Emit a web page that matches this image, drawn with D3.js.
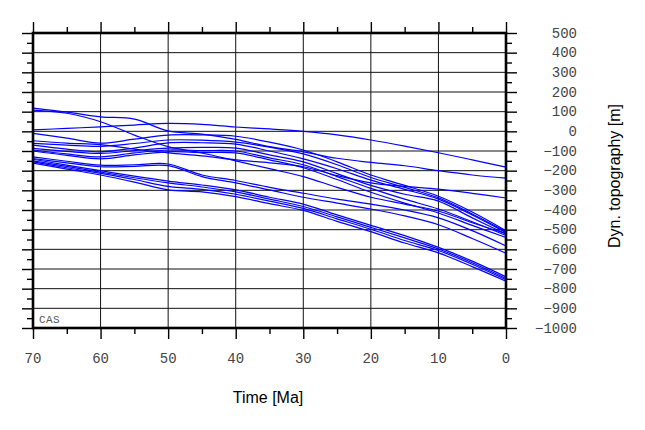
<!DOCTYPE html>
<html><head><meta charset="utf-8">
<script src="https://cdn.jsdelivr.net/npm/d3@7"></script>
<style>html,body{margin:0;padding:0;background:#fff;}</style>
</head><body>
<svg id="c" width="645" height="430"></svg>
<script>
// ---- data (ages in Ma, dynamic topography in m) ----
const ages = [70, 65, 60, 55, 50, 45, 40, 35, 30, 25, 20, 15, 10, 5, 0];
const xMajorTicks = [70, 60, 50, 40, 30, 20, 10, 0];
const yMajorTicks = [500, 400, 300, 200, 100, 0, -100, -200, -300, -400, -500, -600, -700, -800, -900, -1000];
const regionLabel = "CAS";
const xTitle = "Time [Ma]";
const yTitle = "Dyn. topography [m]";

const lineTop = [7, 15, 23, 32, 40, 35, 22, 12, 0, -18, -44, -75, -109, -145, -182];
const lineA1  = [118, 98, 74, 62, 2, -14, -41, -78, -104, -137, -158, -175, -200, -222, -238];
const lineA2  = [108, 92, 49, -19, -78, -110, -150, -190, -230, -285, -335, -370, -405, -465, -520];
const lineL4  = [-48, -60, -68, -90, -110, -125, -145, -160, -180, -225, -262, -280, -294, -315, -339];
const lineM1  = [-10, -35, -60, -40, -19, -18, -25, -55, -95, -155, -222, -275, -330, -410, -505];
const lineM2  = [-61, -70, -76, -62, -44, -45, -55, -80, -115, -170, -235, -285, -338, -420, -510];
const lineM3  = [-70, -90, -104, -85, -59, -58, -65, -100, -140, -190, -248, -295, -345, -425, -515];
const lineM4  = [-87, -102, -112, -98, -85, -82, -85, -120, -155, -215, -275, -320, -355, -440, -522];
const lineM5  = [-95, -115, -130, -110, -95, -98, -100, -135, -170, -230, -290, -345, -395, -460, -530];
const lineM6  = [-100, -122, -140, -120, -104, -108, -110, -145, -185, -245, -310, -365, -415, -478, -540];
const lineP1  = [-130, -152, -172, -170, -166, -222, -250, -285, -315, -345, -370, -400, -440, -505, -583];
const lineP2  = [-138, -160, -180, -178, -174, -230, -262, -298, -335, -365, -395, -430, -475, -545, -620];
const lineB1  = [-142, -172, -200, -228, -253, -273, -298, -335, -370, -425, -478, -530, -590, -660, -740];
const lineB2  = [-150, -178, -207, -236, -262, -283, -308, -345, -382, -435, -488, -542, -598, -668, -748];
const lineB3  = [-155, -185, -214, -245, -280, -295, -320, -355, -392, -445, -498, -555, -606, -676, -755];
const lineB4  = [-162, -192, -222, -258, -298, -308, -332, -368, -402, -458, -510, -568, -618, -688, -762];

const allLines = [lineTop, lineA1, lineA2, lineL4, lineM1, lineM2, lineM3, lineM4, lineM5, lineM6,
                  lineP1, lineP2, lineB1, lineB2, lineB3, lineB4];

// ---- layout ----
const svg = d3.select("#c");
svg.append("rect").attr("width", 645).attr("height", 430).attr("fill", "#fff");
const L = 33, R = 506, T = 33, B = 328;
const x = d3.scaleLinear().domain([70, 0]).range([L, R]);
const y = d3.scaleLinear().domain([-1000, 500]).range([B, T]);

// grid
const g = svg.append("g");
g.selectAll(".gx").data(d3.range(60, 0, -10)).enter().append("line")
  .attr("x1", d => x(d)).attr("x2", d => x(d)).attr("y1", T).attr("y2", B)
  .attr("stroke", "#111").attr("stroke-width", 1);
g.selectAll(".gy").data(d3.range(400, -1000, -100)).enter().append("line")
  .attr("y1", d => y(d)).attr("y2", d => y(d)).attr("x1", L).attr("x2", R)
  .attr("stroke", "#111").attr("stroke-width", 1);

// data lines
const line = d3.line().x(d => x(d[0])).y(d => y(d[1])).curve(d3.curveCatmullRom.alpha(0.5));
svg.append("g").selectAll("path").data(allLines).enter().append("path")
  .attr("d", s => line(ages.map((a, i) => [a, s[i]])))
  .attr("fill", "none").attr("stroke", "#0000ff").attr("stroke-width", 1.2);

// ticks
function addAxis(axisFn, scale, transform, vals, size) {
  const a = axisFn(scale).tickValues(vals).tickSize(size).tickFormat("");
  const gg = svg.append("g").attr("transform", transform).call(a);
  gg.select(".domain").remove();
  gg.selectAll("line").attr("stroke", "#000").attr("stroke-width", 1.4);
}
const xMinor = d3.range(65, 0, -10);
const yMinor = d3.range(450, -1000, -100);
addAxis(d3.axisTop, x, `translate(0,${T})`, xMajorTicks, 11);
addAxis(d3.axisTop, x, `translate(0,${T})`, xMinor, 6);
addAxis(d3.axisBottom, x, `translate(0,${B})`, xMajorTicks, 11);
addAxis(d3.axisBottom, x, `translate(0,${B})`, xMinor, 6);
addAxis(d3.axisLeft, y, `translate(${L},0)`, yMajorTicks, 11);
addAxis(d3.axisLeft, y, `translate(${L},0)`, yMinor, 6);
addAxis(d3.axisRight, y, `translate(${R},0)`, yMajorTicks, 11);
addAxis(d3.axisRight, y, `translate(${R},0)`, yMinor, 6);

// frame
svg.append("rect").attr("x", L).attr("y", T).attr("width", R - L).attr("height", B - T)
  .attr("fill", "none").attr("stroke", "#000").attr("stroke-width", 2.6);

// tick labels
const mono = "'Liberation Mono', 'DejaVu Sans Mono', monospace";
const fmt = d => String(d).replace("-", "\u2212");
svg.append("g").selectAll("text").data(xMajorTicks).enter().append("text")
  .attr("x", d => x(d)).attr("y", 363).attr("text-anchor", "middle")
  .attr("font-family", mono).attr("font-size", 14).attr("fill", "#444").text(fmt);
svg.append("g").selectAll("text").data(yMajorTicks).enter().append("text")
  .attr("x", 577).attr("y", d => y(d) + 4.5).attr("text-anchor", "end")
  .attr("font-family", mono).attr("font-size", 14).attr("fill", "#444").text(fmt);

// titles
const sans = "'Liberation Sans', Arial, Helvetica, sans-serif";
svg.append("text").attr("x", 268).attr("y", 403).attr("text-anchor", "middle")
  .attr("font-family", sans).attr("font-size", 16).attr("fill", "#000").text(xTitle);
svg.append("text").attr("transform", "translate(620,176) rotate(-90)").attr("text-anchor", "middle")
  .attr("font-family", sans).attr("font-size", 16).attr("fill", "#000").text(yTitle);

// region label
svg.append("text").attr("x", 39).attr("y", 322.5)
  .attr("font-family", mono).attr("font-size", 11).attr("letter-spacing", 0.4)
  .attr("fill", "#555").text(regionLabel);
</script>
</body></html>
